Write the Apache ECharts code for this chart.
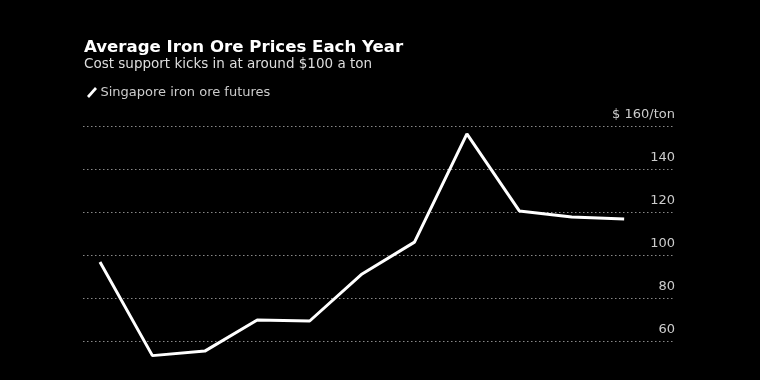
<!DOCTYPE html>
<html>
<head>
<meta charset="utf-8">
<script src="https://cdn.jsdelivr.net/npm/echarts@6/dist/echarts.min.js"></script>
<style>
html,body{margin:0;padding:0;background:#000;}
#chart{width:760px;height:380px;}
</style>
</head>
<body>
<div id="chart"></div>
<script>
var years = [2014, 2015, 2016, 2017, 2018, 2019, 2020, 2021, 2022, 2023, 2024];
var prices = [96.7, 53.2, 55.3, 69.8, 69.3, 91.2, 106, 156.3, 120.5, 117.7, 116.7];
var yTicks = [60, 80, 100, 120, 140, 160];
var seriesName = 'Singapore iron ore futures';
var titleText = 'Average Iron Ore Prices Each Year';
var subtitleText = 'Cost support kicks in at around $100 a ton';

var FONT = 'DejaVu Sans';
var chart = echarts.init(document.getElementById('chart'), null, {renderer: 'canvas'});
var pts = years.map(function (y, i) { return [y, prices[i]]; });

chart.setOption({
  backgroundColor: '#000',
  animation: false,
  title: [
    {text: titleText, left: 84, top: 39, padding: 0, textStyle: {color: '#fff', fontFamily: FONT, fontWeight: 'bold', fontSize: 16.6}},
    {text: subtitleText, left: 84, top: 57, padding: 0, textStyle: {color: '#ddd', fontFamily: FONT, fontWeight: 'normal', fontSize: 13.5}}
  ],
  legend: {
    left: 82, top: 81,
    itemWidth: 11, itemHeight: 11, itemGap: 10,
    icon: 'path://M0,9 L8,0 L10,2 L2,11 Z',
    textStyle: {color: '#ccc', fontFamily: FONT, fontSize: 13, padding: [0, 0, 0, -2]},
    data: [{name: seriesName, itemStyle: {color: '#fff'}}]
  },
  grid: {left: 83, right: 85, top: 126, height: 215, containLabel: false},
  xAxis: {
    type: 'value',
    min: 2013.676, max: 2024.97,
    axisLine: {show: false}, axisTick: {show: false}, axisLabel: {show: false}, splitLine: {show: false}
  },
  yAxis: {
    type: 'value', position: 'right',
    min: 60, max: 160, interval: 20,
    axisLine: {show: false}, axisTick: {show: false},
    splitLine: {show: true, lineStyle: {color: '#888', type: [1.5, 2.5], width: 1}},
    axisLabel: {
      inside: true, color: '#ccc', fontFamily: FONT, fontSize: 13,
      verticalAlign: 'bottom', align: 'right', margin: 0, padding: [0, 0, 5, 0],
      formatter: function (v) {
        if (yTicks.indexOf(v) < 0) return '';
        return v === 160 ? '$ 160/ton' : String(v);
      }
    }
  },
  series: [{
    name: seriesName, type: 'line', data: pts, clip: false,
    symbol: 'none', lineStyle: {color: '#fff', width: 3}, itemStyle: {color: '#fff'}
  }]
});
</script>
</body>
</html>
